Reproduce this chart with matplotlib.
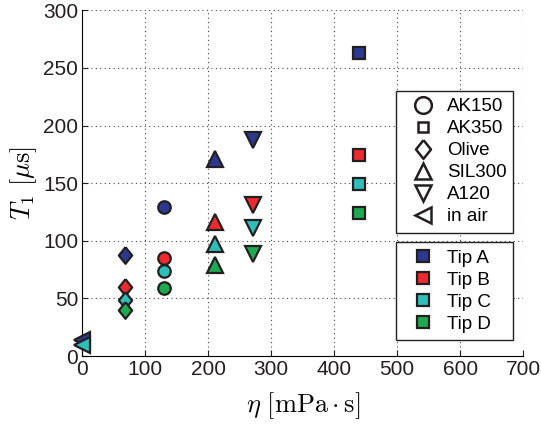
import matplotlib

matplotlib.use("Agg")

import matplotlib.pyplot as plt
from matplotlib.lines import Line2D

# viscosity of each liquid [mPa s]
liquids = ["AK150", "AK350", "Olive", "SIL300", "A120", "in air"]
eta = [130, 440, 68, 211, 271, 0]

tips = ["Tip A", "Tip B", "Tip C", "Tip D"]
# T1 [us] per tip, same order as liquids (None = not measured)
t1_tip_a = [129, 263, 88, 171, 187, 14]
t1_tip_b = [85, 174, 60, 116, 131, None]
t1_tip_c = [74, 149, 49, 97, 111, 10]
t1_tip_d = [59, 124, 40, 79, 89, None]

INK = "#231F20"
COLORS = ["#2B3990", "#EE2A2E", "#2EBFBA", "#1EAA50"]
DIAMOND = [(0, 1), (0.8, 0), (0, -1), (-0.8, 0), (0, 1)]
markers = ["o", "s", DIAMOND, "^", "v", "<"]
SIZES = [9, 8.5, 12, 12, 12, 12]
LEG_SIZES = [12, 7.5, 13.5, 12, 12, 12]

plt.rcParams.update(
    {
        "font.family": ["Liberation Sans", "DejaVu Sans"],
        "mathtext.fontset": "cm",
        "font.size": 15,
    }
)

fig = plt.figure(figsize=(5.41, 4.24), dpi=100)
ax = fig.add_axes([0.152, 0.160, 0.815, 0.816])

for values, color in zip([t1_tip_a, t1_tip_b, t1_tip_c, t1_tip_d], COLORS):
    for x, y, m, s in zip(eta, values, markers, SIZES):
        if y is None:
            continue
        ax.plot(
            x, y, linestyle="none", marker=m, markersize=s,
            markerfacecolor=color, markeredgecolor=INK, markeredgewidth=1.6,
            clip_on=False, zorder=3,
        )

ax.set_xlim(0, 700)
ax.set_ylim(0, 300)
ax.set_xticks(range(0, 701, 100))
ax.set_yticks(range(0, 301, 50))
ax.grid(True, linestyle=(0, (1, 3)), color="#444444", linewidth=0.8)
ax.spines[["top", "right"]].set_visible(False)
ax.tick_params(direction="in", length=4, colors=INK, labelsize=15, pad=3)
ax.set_xlabel(r"$\eta\ [\mathrm{mPa}\cdot\mathrm{s}]$", fontsize=19, labelpad=8)
ax.set_ylabel(r"$T_1\ [\mu\mathrm{s}]$", fontsize=19, labelpad=3)

legend_style = dict(
    loc="upper left", mode="expand", fancybox=False, edgecolor=INK,
    framealpha=1, fontsize=13.5, labelspacing=0.26, handlelength=2.08,
    handletextpad=0.24, borderaxespad=0, borderpad=0.38,
)

shape_handles = [
    Line2D([], [], linestyle="none", marker=m, markersize=s,
           markerfacecolor="white", markeredgecolor=INK, markeredgewidth=1.8)
    for m, s in zip(markers, LEG_SIZES)
]
leg1 = ax.legend(
    shape_handles, liquids,
    bbox_to_anchor=(0.712, 0.358, 0.265, 0.408), **legend_style,
)
leg1.get_frame().set_linewidth(1.0)
ax.add_artist(leg1)

tip_handles = [
    Line2D([], [], linestyle="none", marker="s", markersize=8,
           markerfacecolor=c, markeredgecolor=INK, markeredgewidth=1.6)
    for c in COLORS
]
leg2 = ax.legend(
    tip_handles, tips,
    bbox_to_anchor=(0.712, 0.055, 0.265, 0.274), **legend_style,
)
leg2.get_frame().set_linewidth(1.0)

fig.savefig("out.png", dpi=100)
